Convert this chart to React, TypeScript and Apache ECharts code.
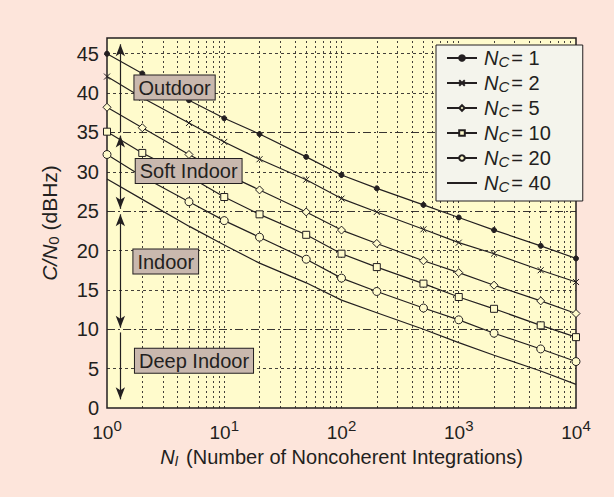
import React, { useEffect, useRef } from "react";
import * as echarts from "echarts";

// ---- data ----
const nI = [1, 2, 5, 10, 20, 50, 100, 200, 500, 1000, 2000, 5000, 10000];
const ncValues = ["1", "2", "5", "10", "20", "40"];
const nc1 = [45.0, 42.5, 39.1, 36.8, 34.8, 31.9, 29.6, 27.9, 25.8, 24.2, 22.6, 20.6, 19.0];
const nc2 = [42.1, 39.4, 36.2, 33.8, 31.6, 29.0, 26.6, 24.9, 22.7, 21.0, 19.6, 17.5, 16.0];
const nc5 = [38.2, 35.6, 32.2, 29.8, 27.7, 24.9, 22.6, 20.9, 18.7, 17.2, 15.6, 13.6, 12.0];
const nc10 = [35.1, 32.4, 29.4, 26.8, 24.6, 22.0, 19.6, 17.9, 15.8, 14.1, 12.6, 10.5, 9.0];
const nc20 = [32.2, 29.4, 26.2, 23.8, 21.7, 18.9, 16.5, 14.8, 12.7, 11.2, 9.5, 7.5, 5.9];
const nc40 = [29.1, 26.5, 23.1, 20.7, 18.4, 15.9, 13.7, 12.1, 10.0, 8.3, 6.7, 4.7, 3.0];

const yDashed = [5, 15, 20, 30, 40, 45];
const yThresholds = [10, 25, 35];
const xMajor = [10, 100, 1000];
const xMinorMultipliers = [2, 3, 4, 5, 6, 7, 8, 9];
const xDecades = [1, 10, 100, 1000];

const regionNames = ["Outdoor", "Soft Indoor", "Indoor", "Deep Indoor"];
const regionLabelX = [3.77, 4.97, 3.17, 5.52];
const regionLabelY = [40.7, 30.1, 18.6, 6.0];
const arrowX = 1.3;
// [from, to, startArrow, endArrow]
const arrowSegments: [number, number, string, string][] = [
  [35, 46.2, "none", "arrow"],
  [34.6, 25.3, "arrow", "arrow"],
  [24.6, 10.2, "arrow", "arrow"],
  [9.6, 1.1, "none", "arrow"],
];

const INK = "#231f20";
const PLOT_BG = "#fffbcc";
const PAGE_BG = "#fde5db";
const BOX_BG = "#c9b8ae";
const LEGEND_BG = "#f4f4ec";
const FONT = "'Liberation Sans', Arial, Helvetica, sans-serif";

const seriesData = [nc1, nc2, nc5, nc10, nc20, nc40];
const symbols = [
  "circle",
  "path://M0,0L10,10M10,0L0,10",
  "diamond",
  "rect",
  "circle",
  "none",
];
const symbolSizes = [5, 6, 8, 7, 8, 0];
const symbolFills = [INK, INK, PLOT_BG, PLOT_BG, PLOT_BG, "rgba(0,0,0,0)"];
const symbolBorders = [1, 1, 1, 1, 1, 0];

export default function App() {
  const ref = useRef<HTMLDivElement>(null);

  useEffect(() => {
    if (!ref.current) return;
    const chart = echarts.init(ref.current, undefined, { renderer: "svg" });

    const names = ncValues.map((v) => `NC = ${v}`);

    const curveSeries = seriesData.map((vals, i) => ({
      name: names[i],
      type: "line",
      data: nI.map((x, j) => [x, vals[j]]),
      symbol: symbols[i],
      symbolSize: symbolSizes[i],
      showSymbol: symbols[i] !== "none",
      z: 3,
      lineStyle: { color: INK, width: 1.2 },
      itemStyle: { color: symbolFills[i], borderColor: INK, borderWidth: symbolBorders[i] },
      emphasis: { disabled: true },
    }));

    const minorX: number[] = [];
    xDecades.forEach((d) => xMinorMultipliers.forEach((m) => minorX.push(d * m)));

    const gridLines = {
      name: "grid",
      type: "line",
      data: [],
      silent: true,
      markLine: {
        silent: true,
        symbol: "none",
        z: 1,
        label: { show: false },
        emphasis: { disabled: true },
        data: [
          ...[...xMajor, ...minorX].map((x) => ({
            xAxis: x,
            lineStyle: { color: INK, width: 1, type: [2, 3], opacity: 0.85 },
          })),
          ...yDashed.map((y) => ({
            yAxis: y,
            lineStyle: { color: INK, width: 1, type: [3, 3], opacity: 0.85 },
          })),
          ...yThresholds.map((y) => ({
            yAxis: y,
            lineStyle: { color: INK, width: 1, type: [8, 3, 2, 3], opacity: 0.9 },
          })),
        ],
      },
    };

    const annotations = {
      name: "regions",
      type: "line",
      data: [],
      silent: true,
      markLine: {
        silent: true,
        z: 4,
        symbolSize: [7, 12],
        label: { show: false },
        emphasis: { disabled: true },
        lineStyle: { color: INK, width: 1.2, type: "solid" },
        data: arrowSegments.map((s) => [
          { coord: [arrowX, s[0]], symbol: s[2] },
          { coord: [arrowX, s[1]], symbol: s[3] },
        ]),
      },
      markPoint: {
        silent: true,
        z: 6,
        symbol: "rect",
        symbolSize: 0,
        data: regionNames.map((n, i) => ({
          name: n,
          coord: [regionLabelX[i], regionLabelY[i]],
          value: n,
        })),
        label: {
          show: true,
          position: "inside",
          formatter: (p: any) => p.name,
          color: INK,
          fontFamily: FONT,
          fontSize: 20,
          backgroundColor: BOX_BG,
          borderColor: INK,
          borderWidth: 1,
          padding: [2, 4, 0, 4],
          lineHeight: 22,
        },
      },
    };

    const sub = { fontSize: 14, verticalAlign: "bottom", lineHeight: 14, fontFamily: FONT, color: INK, fontStyle: "italic" };
    const subUpright = { ...sub, fontStyle: "normal" };

    chart.setOption({
      animation: false,
      backgroundColor: PAGE_BG,
      textStyle: { fontFamily: FONT },
      grid: {
        left: 107,
        right: 38,
        top: 38,
        bottom: 89,
        show: true,
        backgroundColor: PLOT_BG,
        borderColor: INK,
        borderWidth: 1.5,
      },
      legend: {
        data: names,
        orient: "vertical",
        left: 436,
        top: 45,
        itemWidth: 30,
        itemHeight: 7,
        itemGap: 4,
        padding: [3, 32, 7, 10],
        backgroundColor: LEGEND_BG,
        borderColor: INK,
        borderWidth: 1,
        selectedMode: false,
        formatter: (name: string) => `{i|N}{s|C}{t|= ${name.split("= ")[1]}}`,
        textStyle: {
          color: INK,
          fontFamily: FONT,
          rich: {
            i: { fontSize: 20, fontStyle: "italic", lineHeight: 22, verticalAlign: "middle", color: INK, fontFamily: FONT, padding: [0, 0, 0, 2] },
            s: { ...sub, fontSize: 15, lineHeight: 15, padding: [0, 2, 0, 0] },
            t: { fontSize: 20, lineHeight: 22, verticalAlign: "middle", color: INK, fontFamily: FONT },
          },
        },
      },
      xAxis: {
        type: "log",
        logBase: 10,
        min: 1,
        max: 10000,
        axisLine: { show: false },
        axisTick: { show: false },
        splitLine: { show: false },
        axisLabel: {
          margin: 10,
          formatter: (v: number) => `{b|10}{e|${Math.round(Math.log10(v))}}`,
          rich: {
            b: { fontSize: 19, color: INK, fontFamily: FONT, lineHeight: 24, verticalAlign: "bottom" },
            e: { fontSize: 15, color: INK, fontFamily: FONT, lineHeight: 15, verticalAlign: "top" },
          },
        },
        name: "{i|N}{s|I}{t| (Number of Noncoherent Integrations)}",
        nameLocation: "middle",
        nameGap: 30,
        nameTextStyle: {
          rich: {
            i: { fontSize: 20, fontStyle: "italic", lineHeight: 22, verticalAlign: "middle", color: INK, fontFamily: FONT },
            s: { ...sub, padding: [0, 2, 0, 0] },
            t: { fontSize: 20, lineHeight: 22, verticalAlign: "middle", color: INK, fontFamily: FONT },
          },
        },
      },
      yAxis: {
        type: "value",
        min: 0,
        max: 47,
        interval: 5,
        axisLine: { show: false },
        axisTick: { show: false },
        splitLine: { show: false },
        axisLabel: { showMaxLabel: false, color: INK, fontSize: 20, fontFamily: FONT, margin: 8 },
        name: "{i|C/N}{s|0}{t| (dBHz)}",
        nameLocation: "middle",
        nameGap: 46,
        nameRotate: 90,
        nameTextStyle: {
          rich: {
            i: { fontSize: 21, fontStyle: "italic", lineHeight: 23, verticalAlign: "middle", color: INK, fontFamily: FONT },
            s: { ...subUpright, fontSize: 15, lineHeight: 15 },
            t: { fontSize: 21, lineHeight: 23, verticalAlign: "middle", color: INK, fontFamily: FONT },
          },
        },
      },
      series: [gridLines, annotations, ...curveSeries],
    });

    return () => chart.dispose();
  }, []);

  return (
    <div
      ref={ref}
      style={{ position: "fixed", left: 0, top: 0, width: 614, height: 497 }}
    />
  );
}
